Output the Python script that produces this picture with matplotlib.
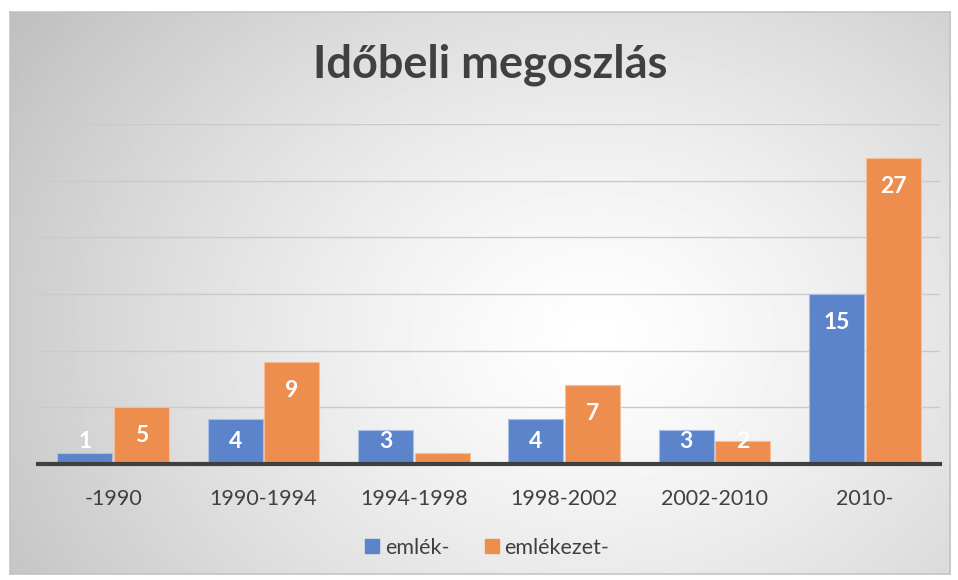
import numpy as np
import matplotlib
matplotlib.use("Agg")
import matplotlib.pyplot as plt
from matplotlib.lines import Line2D

# adatok
kategoriak = ["-1990", "1990-1994", "1994-1998", "1998-2002", "2002-2010", "2010-"]
emlek = [1, 4, 3, 4, 3, 15]
emlekezet = [5, 9, 1, 7, 2, 27]
# a 1994-1998 narancs oszlopon nincs felirat
emlekezet_cimke = ["5", "9", "", "7", "2", "27"]
emlek_cimke = [str(v) for v in emlek]

kek = "#5B84CB"
narancs = "#EE8E4E"
szoveg = "#404040"

plt.rcParams["font.family"] = ["Lato", "DejaVu Sans"]

fig = plt.figure(figsize=(9.58, 5.8), dpi=100)

# háttér: sugaras színátmenet
bg = fig.add_axes([10 / 958, 6 / 580, 940 / 958, 562 / 580])
yy, xx = np.mgrid[0:1:300j, 0:1:500j]
d = np.sqrt(((xx - 0.62) * 1.0) ** 2 + ((yy - 0.42) * 0.75) ** 2)
grad = 1.0 - np.clip(d / 0.75, 0, 1) ** 1.3 * 0.25
bg.imshow(grad, cmap="gray", vmin=0, vmax=1, aspect="auto", extent=[0, 1, 0, 1], origin="lower")
bg.set_xticks([])
bg.set_yticks([])
for s in bg.spines.values():
    s.set_color("#c4c4c4")
    s.set_linewidth(1.2)

ax = fig.add_axes([38 / 958, 116 / 580, 902 / 958, 340 / 580])
ax.patch.set_alpha(0)

x = np.arange(len(kategoriak))
w = 0.365
b1 = ax.bar(x - w / 2 - 0.006, emlek, w, color=kek, edgecolor="#A9BFE6", linewidth=0.8, zorder=3)
b2 = ax.bar(x + w / 2 + 0.006, emlekezet, w, color=narancs, edgecolor="#F6BE98", linewidth=0.8, zorder=3)

# címkék az oszlopok tetején belül
for rects, cimkek in ((b1, emlek_cimke), (b2, emlekezet_cimke)):
    for r, c in zip(rects, cimkek):
        if not c:
            continue
        h = r.get_height()
        y = max(h - 2.5, 2.0)
        ax.text(r.get_x() + r.get_width() / 2, y, c, ha="center", va="center",
                color="white", fontsize=16.5, fontweight="bold", zorder=4)

ax.set_xlim(-0.5, 5.5)
ax.set_ylim(0, 30)
ax.set_yticks([5, 10, 15, 20, 25, 30])
ax.yaxis.grid(True, color="#cacaca", linewidth=1.0, zorder=0)
ax.tick_params(axis="y", length=0, labelleft=False)
ax.tick_params(axis="x", length=0, pad=18, labelsize=15.5, labelcolor=szoveg)
ax.set_xticks(x)
ax.set_xticklabels(kategoriak)
for s in ["top", "right", "left"]:
    ax.spines[s].set_visible(False)
ax.spines["bottom"].set_color(szoveg)
ax.spines["bottom"].set_linewidth(3)
ax.spines["bottom"].set_zorder(5)

fig.text(490 / 958, 1 - 65 / 580, "Időbeli megoszlás", ha="center", va="center",
         fontsize=32.5, fontweight="bold", color=szoveg)

jel = [Line2D([], [], marker="s", linestyle="", markersize=9.5, color=kek),
       Line2D([], [], marker="s", linestyle="", markersize=9.5, color=narancs)]
fig.legend(jel, ["emlék-", "emlékezet-"], loc="center", bbox_to_anchor=(487 / 958, 1 - 548 / 580),
           ncol=2, frameon=False, fontsize=15.5, labelcolor=szoveg, handlelength=0.7,
           handletextpad=0.25, columnspacing=1.6)

fig.savefig("out.png", dpi=100)
